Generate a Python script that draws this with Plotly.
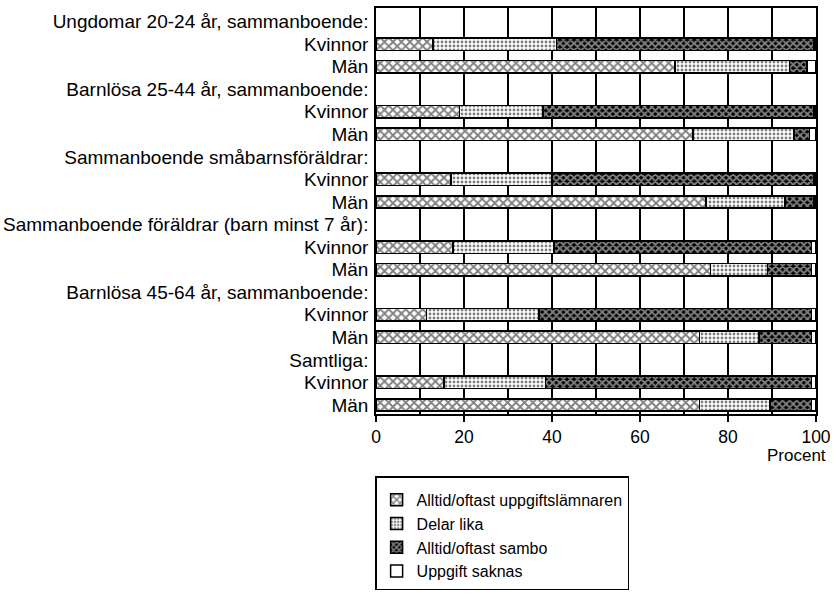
import plotly.graph_objects as go

groups = [
    "Ungdomar 20-24 år, sammanboende:",
    "Barnlösa 25-44 år, sammanboende:",
    "Sammanboende småbarnsföräldrar:",
    "Sammanboende föräldrar (barn minst 7 år):",
    "Barnlösa 45-64 år, sammanboende:",
    "Samtliga:",
]
sexes = ["Kvinnor", "Män"]

# values per bar, in order: group1 Kvinnor, group1 Män, group2 Kvinnor, ...
uppgiftslamnaren = [13, 68, 19, 72, 17, 75, 17.5, 76, 11.5, 73.5, 15.5, 73.5]
delar_lika = [28, 26, 19, 23, 23, 18, 23, 13, 25.5, 13.5, 23, 16]
sambo = [58.5, 4, 61.5, 3.5, 59.5, 6.5, 58.5, 10, 62, 12, 60.5, 9.5]
saknas = [0.5, 2, 0.5, 1.5, 0.5, 0.5, 1, 1, 1, 1, 1, 1]

series_names = [
    "Alltid/oftast uppgiftslämnaren",
    "Delar lika",
    "Alltid/oftast sambo",
    "Uppgift saknas",
]
x_ticks = [0, 20, 40, 60, 80, 100]

# row layout: header, Kvinnor, Män for each group
row_labels = []
bar_rows = []
for g in groups:
    row_labels.append(g)
    for s in sexes:
        bar_rows.append(len(row_labels))
        row_labels.append(s)
row_pos = list(range(len(row_labels)))

patterns = [
    dict(shape="x", size=6, solidity=0.52, fgcolor="black", bgcolor="white"),
    dict(shape=".", size=4, solidity=0.4, fgcolor="black", bgcolor="white"),
    dict(shape="x", size=5, solidity=0.62, fgcolor="white", bgcolor="black"),
    dict(shape="", fgcolor="black", bgcolor="white"),
]

fig = go.Figure()
for name, vals, pat in zip(series_names, [uppgiftslamnaren, delar_lika, sambo, saknas], patterns):
    fig.add_trace(go.Bar(
        name=name,
        legendgroup=name,
        orientation="h",
        x=vals,
        y=bar_rows,
        width=0.55,
        marker=dict(color="white", line=dict(color="black", width=1.5), pattern=pat),
    ))

font_family = "Liberation Sans, Arial, sans-serif"
fig.update_layout(
    barmode="stack",
    width=837,
    height=608,
    margin=dict(l=376, r=17, t=6, b=194),
    paper_bgcolor="white",
    plot_bgcolor="white",
    font=dict(family=font_family, color="black", size=17),
    xaxis=dict(
        range=[0, 100],
        tickvals=x_ticks,
        ticks="outside",
        ticklen=6,
        tickwidth=1.5,
        tickcolor="black",
        showgrid=True,
        gridcolor="black",
        gridwidth=1.5,
        showline=True,
        linecolor="black",
        linewidth=1.5,
        mirror=True,
        tickfont=dict(size=17.5),
        zeroline=False,
        fixedrange=True,
    ),
    yaxis=dict(
        range=[17.4, -0.6],
        tickvals=row_pos,
        ticktext=row_labels,
        ticks="",
        showgrid=False,
        showline=True,
        linecolor="black",
        linewidth=1.5,
        mirror=True,
        tickfont=dict(size=19),
        ticklabelstandoff=2,
        zeroline=False,
        automargin=False,
        fixedrange=True,
    ),
    legend=dict(
        x=-0.002,
        xanchor="left",
        y=-0.153,
        yanchor="top",
        bordercolor="black",
        borderwidth=1.5,
        font=dict(size=16),
        traceorder="normal",
        tracegroupgap=1,
        bgcolor="white",
        title=dict(text=" ", font=dict(size=4)),
        entrywidth=248,
        entrywidthmode="pixels",
    ),
    annotations=[
        dict(text="Procent", x=1.027, xanchor="right", y=-0.1015, yanchor="middle",
             xref="paper", yref="paper", showarrow=False, font=dict(size=17)),
    ],
)

# gridlines at every 10
fig.update_xaxes(minor=dict(dtick=10, tick0=0, showgrid=True, gridcolor="black", gridwidth=1.5, ticks=""))

fig.write_html(
    "out.html",
    config={"displayModeBar": False},
    post_script="document.body.style.margin='0';document.body.style.overflow='hidden';",
)
